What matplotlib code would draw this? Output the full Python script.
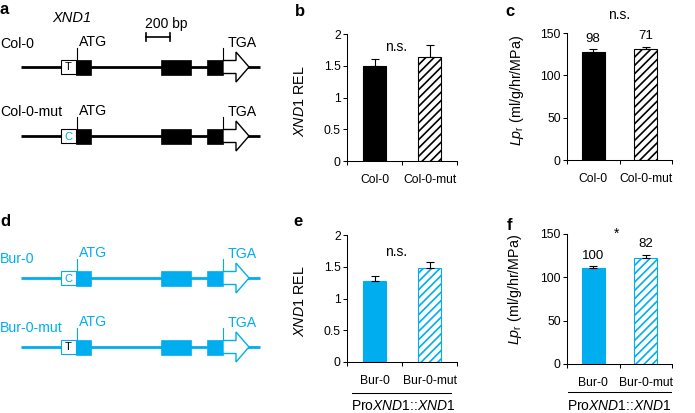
import matplotlib.pyplot as plt
from matplotlib.patches import Polygon, Rectangle


CYAN = "#00aeef"

# values
TOP_LINES = ["Col-0", "Col-0-mut"]
BOTTOM_LINES = ["Bur-0", "Bur-0-mut"]

REL_TOP = [1.49, 1.645]
REL_TOP_ERR = [0.11, 0.175]
REL_BOTTOM = [1.28, 1.48]
REL_BOTTOM_ERR = [0.08, 0.10]

LP_TOP = [127.5, 131.0]
LP_TOP_ERR = [3.1, 3.0]
LP_TOP_N = [98, 71]
LP_BOTTOM = [110.6, 122.7]
LP_BOTTOM_ERR = [2.7, 3.6]
LP_BOTTOM_N = [100, 82]

REL_TICKS = [0, 0.5, 1, 1.5, 2]
REL_TICK_LABELS = ["0", "0.5", "1", "1.5", "2"]
LP_TICKS = [0, 50, 100, 150]
LP_TICK_LABELS = ["0", "50", "100", "150"]

# gene model, in pixel units of the schematic panels
GENE_SPAN = (21, 260)
SNP_BOX = (61, 76)
EXONS = [(76, 91), (161, 191), (207, 223)]
ARROW = (223, 236, 249)
ATG_X = 77
TGA_X = 223

W, H = 695, 413
GENE_FS = 10.2

plt.rcParams["font.family"] = ["Liberation Sans", "DejaVu Sans"]
plt.rcParams["mathtext.fontset"] = "custom"
plt.rcParams["mathtext.rm"] = "Liberation Sans"
plt.rcParams["mathtext.it"] = "Liberation Sans:italic"
plt.rcParams["mathtext.bf"] = "Liberation Sans:bold"
plt.rcParams["hatch.linewidth"] = 1.2


def _rect(left, top, right, bottom):
    """Pixel box -> figure fraction rect."""
    return [left / W, 1 - bottom / H, (right - left) / W, (bottom - top) / H]


def _draw_gene(ax, y, color, snp, snp_color, name, name_dy):
    """Draws one gene model with SNP box, exons and arrow."""
    ax.plot(GENE_SPAN, [y, y], color=color, lw=2, solid_capstyle="butt", zorder=1)

    ax.add_patch(Rectangle((SNP_BOX[0], y - 7), SNP_BOX[1] - SNP_BOX[0], 14,
                           facecolor="white", edgecolor=color, lw=0.8, zorder=2))
    ax.text((SNP_BOX[0] + SNP_BOX[1]) / 2, y + 0.5, snp, color=snp_color,
            fontsize=8, ha="center", va="center", zorder=3)

    for start, end in EXONS:
        ax.add_patch(Rectangle((start, y - 7.5), end - start, 15,
                               facecolor=color, edgecolor=color, lw=0.5, zorder=2))

    s, h, tip = ARROW
    ax.add_patch(Polygon(
        [(s, y - 6.5), (h, y - 6.5), (h, y - 15), (tip, y), (h, y + 15), (h, y + 6.5), (s, y + 6.5)],
        closed=True, facecolor="white", edgecolor=color, lw=1, joinstyle="miter", zorder=2,
    ))

    for x in (ATG_X, TGA_X):
        ax.plot([x, x], [y - 19, y - 7], color=color, lw=0.8, zorder=3)

    ax.text(ATG_X + 2, y - 25, "ATG", color=color, fontsize=GENE_FS, ha="left", va="center")
    ax.text(TGA_X + 5, y - 24, "TGA", color=color, fontsize=GENE_FS, ha="left", va="center")
    ax.text(0, y + name_dy, name, color=color, fontsize=GENE_FS, ha="left", va="center")


def _bar_panel(fig, rect, labels, values, errors, color, ylim, ticks, tick_labels, ylabel, ylabel_xy):
    """Two bars (solid + hatched) with upper error bars."""
    ax = fig.add_axes(rect)
    xs = list(range(len(values)))

    ax.bar(xs[0], values[0], width=0.43, color=color, edgecolor=color, lw=0.8, zorder=2)
    ax.bar(xs[1], values[1], width=0.43, facecolor="white", edgecolor=color, hatch="////", lw=0.8, zorder=2)
    ax.errorbar(xs, values, yerr=[[0] * len(errors), errors], fmt="none", ecolor="black",
                elinewidth=0.8, capsize=3, capthick=0.8, zorder=3)

    ax.set_xlim(-0.5, 1.5)
    ax.set_ylim(*ylim)
    ax.set_yticks(ticks)
    ax.set_yticklabels(tick_labels, fontsize=8.7)

    ax.set_xticks([-0.5, 0.5, 1.5])
    ax.set_xticklabels([])
    ax.set_xticks(xs, minor=True)
    ax.set_xticklabels(labels, minor=True, fontsize=8.7)
    ax.tick_params(axis="x", which="minor", length=0, pad=9)
    ax.tick_params(axis="both", which="major", length=3, width=0.75, pad=1.5, direction="out")

    for side in ("top", "right"):
        ax.spines[side].set_visible(False)
    for side in ("left", "bottom"):
        ax.spines[side].set_linewidth(0.75)

    ax.set_ylabel(ylabel, fontsize=10.3)
    ax.yaxis.set_label_coords(*ylabel_xy)
    return ax


def _group_label(ax, x0, x1, xc, y_line, y_text):
    """Underline under tick labels and construct name."""
    ax.plot([x0, x1], [y_line, y_line], color="black", lw=0.75, transform=ax.transAxes, clip_on=False)
    ax.text(xc, y_text, r"Pro$\mathit{XND1}$::$\mathit{XND1}$", fontsize=10,
            ha="center", va="baseline", transform=ax.transAxes)


fig = plt.figure(figsize=(W / 100, H / 100), dpi=100)

gax = fig.add_axes([0, 0, 1, 1])
gax.set_xlim(0, W)
gax.set_ylim(H, 0)
gax.set_axis_off()

# panel a
gax.text(0, 10, "a", fontsize=12, fontweight="bold", ha="left", va="center")
gax.text(72, 18, "XND1", fontsize=10.5, style="italic", ha="center", va="center")
gax.text(166, 24, "200 bp", fontsize=10, ha="center", va="center")
gax.plot([146, 170], [37, 37], color="black", lw=1.2)
gax.plot([146, 146], [33, 41], color="black", lw=1.2)
gax.plot([170, 170], [33, 41], color="black", lw=1.2)
_draw_gene(gax, 67, "black", "T", "black", TOP_LINES[0], -23)
_draw_gene(gax, 136, "black", "C", CYAN, TOP_LINES[1], -24)

# panel d
gax.text(0, 222, "d", fontsize=12, fontweight="bold", ha="left", va="center")
_draw_gene(gax, 278, CYAN, "C", CYAN, BOTTOM_LINES[0], -19)
_draw_gene(gax, 347, CYAN, "T", "black", BOTTOM_LINES[1], -19)

# panel letters for bar charts
gax.text(295, 11, "b", fontsize=12, fontweight="bold", ha="left", va="center")
gax.text(505, 11, "c", fontsize=12, fontweight="bold", ha="left", va="center")
gax.text(293, 222, "e", fontsize=12, fontweight="bold", ha="left", va="center")
gax.text(507, 225, "f", fontsize=12, fontweight="bold", ha="left", va="center")

rel_label = r"$\mathit{XND1}$ REL"
lp_label = r"$\mathit{Lp}_{\mathrm{r}}$ (ml/g/hr/MPa)"

ax_b = _bar_panel(fig, _rect(347, 34, 457, 161), TOP_LINES, REL_TOP, REL_TOP_ERR, "black",
                  (0, 2), REL_TICKS, REL_TICK_LABELS, rel_label, (-0.365, 0.47))
ax_b.text(0.4, 1.80, "n.s.", fontsize=10, ha="center", va="center")

ax_c = _bar_panel(fig, _rect(567, 33, 672, 160), TOP_LINES, LP_TOP, LP_TOP_ERR, "black",
                  (0, 150), LP_TICKS, LP_TICK_LABELS, lp_label, (-0.39, 0.55))
ax_c.text(0.5, 171, "n.s.", fontsize=10, ha="center", va="center", clip_on=False)
for i, n in enumerate(LP_TOP_N):
    ax_c.annotate(str(n), xy=(i, LP_TOP[i] + LP_TOP_ERR[i]), xytext=(0, 3),
                  textcoords="offset points", ha="center", va="bottom", fontsize=9.5)

ax_e = _bar_panel(fig, _rect(347, 235, 457, 362), BOTTOM_LINES, REL_BOTTOM, REL_BOTTOM_ERR, CYAN,
                  (0, 2), REL_TICKS, REL_TICK_LABELS, rel_label, (-0.365, 0.48))
ax_e.text(0.4, 1.73, "n.s.", fontsize=10, ha="center", va="center")
_group_label(ax_e, 0.045, 0.945, 0.51, -0.244, -0.375)

ax_f = _bar_panel(fig, _rect(567, 234, 672, 364), BOTTOM_LINES, LP_BOTTOM, LP_BOTTOM_ERR, CYAN,
                  (0, 150), LP_TICKS, LP_TICK_LABELS, lp_label, (-0.41, 0.57))
ax_f.text(0.45, 150, "*", fontsize=10, ha="center", va="center", clip_on=False)
for i, n in enumerate(LP_BOTTOM_N):
    ax_f.annotate(str(n), xy=(i, LP_BOTTOM[i] + LP_BOTTOM_ERR[i]), xytext=(0, 3),
                  textcoords="offset points", ha="center", va="bottom", fontsize=9.5)
_group_label(ax_f, 0.01, 0.99, 0.5, -0.215, -0.352)

fig.savefig("out.png", dpi=100)
